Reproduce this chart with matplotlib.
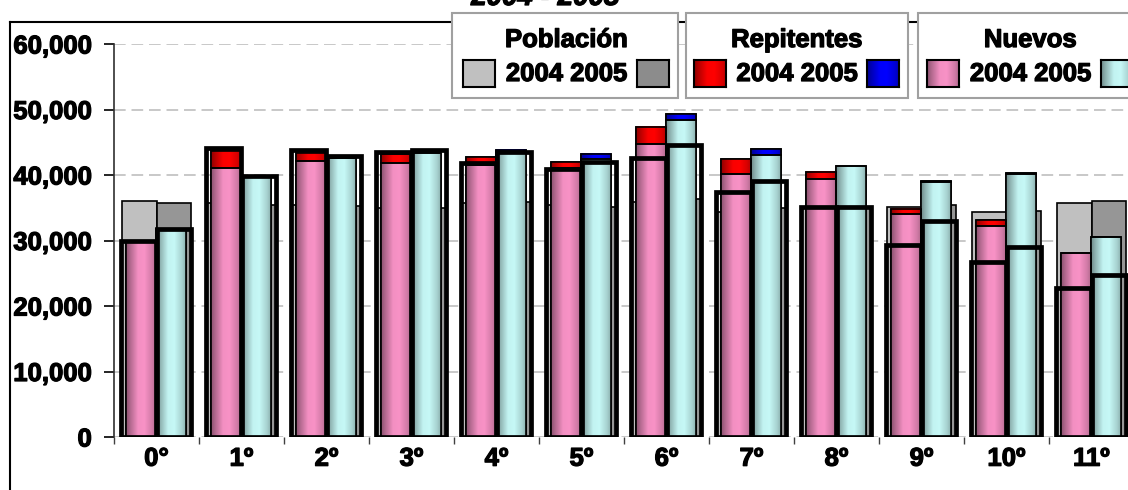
import numpy as np
import matplotlib
matplotlib.use("Agg")
import matplotlib.pyplot as plt
import matplotlib.colors as mcolors
import matplotlib.patheffects as pe
from matplotlib.patches import Rectangle
from matplotlib.lines import Line2D
from matplotlib.ticker import FuncFormatter

# data
grados = ["0°", "1º", "2º", "3º", "4º", "5º", "6º", "7º", "8º", "9º", "10º", "11º"]
poblacion_2004 = [36000, 35700, 35400, 35000, 35700, 35400, 35900, 34400, 35000, 35100, 34400, 35700]
poblacion_2005 = [35700, 35400, 35200, 35000, 35900, 35100, 36300, 35000, 35000, 35400, 34500, 36000]
nuevos_2004 = [29900, 41100, 42100, 41800, 41500, 41100, 44700, 40200, 39400, 34000, 32200, 28100]
nuevos_2005 = [31800, 39700, 42600, 43400, 43300, 42400, 48400, 43100, 41400, 38900, 40100, 30500]
repitentes_2004 = [0, 2600, 1300, 1400, 1200, 900, 2600, 2200, 1100, 800, 900, 0]
repitentes_2005 = [0, 0, 0, 0, 500, 800, 900, 900, 0, 150, 150, 0]
matricula_2004 = [30000, 44100, 43800, 43500, 41800, 40900, 42600, 37400, 35100, 29300, 26700, 22700]
matricula_2005 = [31800, 39800, 42900, 43800, 43500, 42000, 44600, 39100, 35100, 33000, 29000, 24700]

W, H = 1128, 490
plt.rcParams['font.family'] = ['Liberation Sans', 'DejaVu Sans']
plt.rcParams['font.weight'] = 'bold'
FS = 18.5
HEAVY = [pe.withStroke(linewidth=0.9, foreground='black')]

fig = plt.figure(figsize=(W / 100, H / 100), dpi=100)


def fx(x):
    return x / W


def fy(y):
    return 1 - y / H


# cylinder-like shading across each bar
SHADE_T = [0, 0.12, 0.4, 0.62, 0.88, 1]
SHADE_V = [0.56, 0.7, 0.98, 1.0, 0.84, 0.72]


def shaded(color, n=64):
    t = np.linspace(0, 1, n)
    s = np.interp(t, SHADE_T, SHADE_V)
    rgb = np.array(mcolors.to_rgb(color))
    return np.clip(rgb[None, None, :] * s[None, :, None], 0, 1)


def gradient_bars(ax, x, heights, bottoms, width, color, z):
    bars = ax.bar(x, heights, width, bottom=bottoms, color=color,
                  edgecolor='black', linewidth=1.2, zorder=z)
    img = shaded(color)
    for b in bars:
        if b.get_height() <= 0:
            continue
        x0, y0 = b.get_x(), b.get_y()
        ax.imshow(img, extent=[x0, x0 + b.get_width(), y0, y0 + b.get_height()],
                  aspect='auto', interpolation='bilinear', zorder=z + 0.01)
    ax.bar(x, heights, width, bottom=bottoms, fill=False,
           edgecolor='black', linewidth=1.2, zorder=z + 0.02)


PINK = '#f892c6'
CYAN = '#c6f8f6'
RED = '#ff0000'
BLUE = '#0000ff'
GRAY1 = '#c0c0c0'
GRAY2 = '#969696'

ax = fig.add_axes([fx(114), fy(437), 1020 / W, 393 / H])
x = np.arange(len(grados))

# poblacion (behind)
ax.bar(x - 0.205, poblacion_2004, 0.41, color=GRAY1, edgecolor='black', linewidth=1.2, zorder=2)
ax.bar(x + 0.205, poblacion_2005, 0.41, color=GRAY2, edgecolor='black', linewidth=1.2, zorder=2)

# nuevos + repitentes
gradient_bars(ax, x - 0.18, nuevos_2004, 0, 0.35, PINK, 3)
gradient_bars(ax, x + 0.17, nuevos_2005, 0, 0.35, CYAN, 3)
gradient_bars(ax, x - 0.18, repitentes_2004, nuevos_2004, 0.35, RED, 3)
gradient_bars(ax, x + 0.17, repitentes_2005, nuevos_2005, 0.35, BLUE, 3)

# thick outlined series
ax.bar(x - 0.21, matricula_2004, 0.41, fill=False, edgecolor='black', linewidth=3.4, zorder=4)
ax.bar(x + 0.205, matricula_2005, 0.41, fill=False, edgecolor='black', linewidth=3.4, zorder=4)

ax.set_xlim(-0.5, len(grados) - 0.5)
ax.set_ylim(0, 60000)
ax.set_yticks(np.arange(0, 60001, 10000))
ax.yaxis.set_major_formatter(FuncFormatter(lambda v, p: f"{v:,.0f}"))
ax.set_xticks(x)
ax.set_xticklabels(grados)
ax.set_xticks(np.arange(-0.5, len(grados), 1), minor=True)
ax.tick_params(axis='x', which='major', length=0, pad=7, labelsize=FS)
ax.tick_params(axis='x', which='minor', length=5, width=1, color='#404040', direction='out')
ax.tick_params(axis='y', length=7, width=1.2, pad=9, labelsize=FS)
for lab in ax.get_xticklabels() + ax.get_yticklabels():
    lab.set_path_effects(HEAVY)
ax.yaxis.grid(True, color='#c8c8c8', linestyle=(0, (6, 3)), linewidth=1.4)
ax.set_axisbelow(True)
for s in ['top', 'right', 'bottom']:
    ax.spines[s].set_visible(False)
ax.spines['left'].set_color('#303030')
ax.spines['left'].set_linewidth(1.2)

# chart area border
fig.add_artist(Line2D([fx(10), fx(10)], [fy(22), fy(500)], transform=fig.transFigure, color='black', lw=1.5))
fig.add_artist(Line2D([fx(10), 1.02], [fy(22), fy(22)], transform=fig.transFigure, color='black', lw=1.5))

# title (cut off at the top edge, as in the source image)
fig.text(fx(545), fy(5), "2004 - 2005", ha='center', va='baseline', fontsize=20,
         fontweight='bold', fontstyle='italic', path_effects=HEAVY)


def legend_box(x0, x1, title, c_left, c_right, sq_left, sq_right, grad):
    fig.add_artist(Rectangle((fx(x0), fy(98)), fx(x1 - x0), (98 - 13) / H, transform=fig.transFigure,
                             facecolor='white', edgecolor='#a0a0a0', lw=1.5, zorder=5))
    cx = (sq_left + 33 + sq_right) / 2
    fig.text(fx(cx), fy(40), title, ha='center', va='center', fontsize=FS, zorder=6, path_effects=HEAVY)
    fig.text(fx(cx), fy(74), "2004 2005", ha='center', va='center', fontsize=FS, zorder=6, path_effects=HEAVY)
    for sx, col in [(sq_left, c_left), (sq_right, c_right)]:
        sa = fig.add_axes([fx(sx), fy(87), 32 / W, 27 / H], zorder=7)
        if grad:
            sa.imshow(shaded(col), aspect='auto', interpolation='bilinear', extent=[0, 1, 0, 1])
        else:
            sa.set_facecolor(col)
        sa.set_xticks([])
        sa.set_yticks([])
        for sp in sa.spines.values():
            sp.set_linewidth(1.5)
            sp.set_color('black')


legend_box(452, 678, "Población", GRAY1, '#8c8c8c', 463, 637, False)
legend_box(686, 908, "Repitentes", RED, BLUE, 694, 867, True)
legend_box(918, 1145, "Nuevos", PINK, CYAN, 927, 1101, True)

fig.savefig("out.png", dpi=100)
